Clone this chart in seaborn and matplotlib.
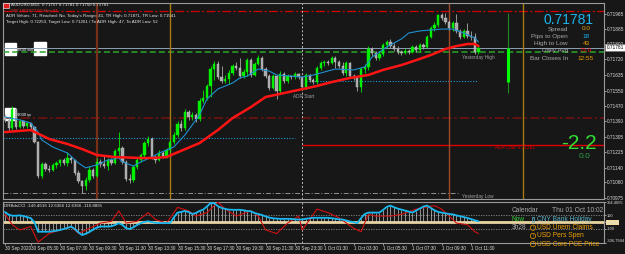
import numpy as np
import matplotlib
matplotlib.use("Agg")
import matplotlib.pyplot as plt
from matplotlib.patches import Rectangle
import seaborn as sns

# ---- AUDUSD M15 bars (30 Sep 03:45 -> 1 Oct 12:00) ----
first_open = 0.71411
closes = [0.71395, 0.71352, 0.71454, 0.71357, 0.71389, 0.71363, 0.71379, 0.71357, 0.71277, 0.71095,
          0.71159, 0.71132, 0.71127, 0.71154, 0.71164, 0.71180, 0.71164, 0.71191, 0.71180, 0.71111,
          0.71068, 0.71041, 0.71073, 0.71127, 0.71095, 0.71170, 0.71159, 0.71148, 0.71180, 0.71164,
          0.71229, 0.71245, 0.71170, 0.71079, 0.71073, 0.71143, 0.71180, 0.71207, 0.71271, 0.71293,
          0.71196, 0.71180, 0.71218, 0.71202, 0.71234, 0.71277, 0.71314, 0.71373, 0.71352, 0.71438,
          0.71411, 0.71422, 0.71400, 0.71497, 0.71513, 0.71577, 0.71668, 0.71695, 0.71625, 0.71604,
          0.71614, 0.71647, 0.71684, 0.71673, 0.71630, 0.71652, 0.71716, 0.71636, 0.71695, 0.71727,
          0.71668, 0.71630, 0.71566, 0.71630, 0.71550, 0.71641, 0.71604, 0.71630, 0.71625, 0.71641,
          0.71625, 0.71572, 0.71636, 0.71609, 0.71598, 0.71673, 0.71700, 0.71706, 0.71700, 0.71727,
          0.71706, 0.71684, 0.71647, 0.71700, 0.71630, 0.71620, 0.71572, 0.71668, 0.71679, 0.71775,
          0.71754, 0.71727, 0.71748, 0.71797, 0.71813, 0.71791, 0.71775, 0.71759, 0.71754, 0.71765,
          0.71759, 0.71786, 0.71770, 0.71797, 0.71786, 0.71840, 0.71888, 0.71904, 0.71958, 0.71941,
          0.71920, 0.71888, 0.71915, 0.71872, 0.71840, 0.71872, 0.71845, 0.71840, 0.71759, 0.71781]
highs = [0.71427, 0.71416, 0.71470, 0.71459, 0.71400, 0.71395, 0.71389, 0.71379, 0.71363, 0.71282,
         0.71170, 0.71170, 0.71154, 0.71164, 0.71175, 0.71186, 0.71191, 0.71223, 0.71202, 0.71180,
         0.71127, 0.71073, 0.71089, 0.71148, 0.71138, 0.71191, 0.71186, 0.71207, 0.71191, 0.71191,
         0.71239, 0.71330, 0.71255, 0.71180, 0.71106, 0.71154, 0.71191, 0.71218, 0.71282, 0.71309,
         0.71304, 0.71207, 0.71234, 0.71229, 0.71245, 0.71293, 0.71330, 0.71389, 0.71395, 0.71454,
         0.71448, 0.71438, 0.71432, 0.71513, 0.71556, 0.71588, 0.71684, 0.71711, 0.71711, 0.71684,
         0.71636, 0.71663, 0.71695, 0.71706, 0.71727, 0.71668, 0.71727, 0.71727, 0.71706, 0.71743,
         0.71738, 0.71679, 0.71641, 0.71641, 0.71636, 0.71657, 0.71652, 0.71641, 0.71636, 0.71652,
         0.71647, 0.71630, 0.71647, 0.71641, 0.71620, 0.71684, 0.71711, 0.71716, 0.71716, 0.71738,
         0.71738, 0.71716, 0.71706, 0.71711, 0.71706, 0.71641, 0.71630, 0.71679, 0.71695, 0.71791,
         0.71786, 0.71765, 0.71765, 0.71807, 0.71824, 0.71829, 0.71807, 0.71791, 0.71770, 0.71781,
         0.71775, 0.71797, 0.71797, 0.71807, 0.71807, 0.71850, 0.71899, 0.71920, 0.71963, 0.71968,
         0.71968, 0.71931, 0.71925, 0.71963, 0.71882, 0.71882, 0.71915, 0.71872, 0.71861, 0.71791]
lows = [0.71384, 0.71336, 0.71341, 0.71346, 0.71352, 0.71352, 0.71352, 0.71341, 0.71271, 0.71084,
        0.71084, 0.71122, 0.71116, 0.71122, 0.71138, 0.71148, 0.71154, 0.71148, 0.71164, 0.71100,
        0.71057, 0.71004, 0.71020, 0.71063, 0.71084, 0.71089, 0.71143, 0.71138, 0.71127, 0.71154,
        0.71159, 0.71202, 0.71159, 0.71068, 0.71057, 0.71063, 0.71132, 0.71170, 0.71196, 0.71255,
        0.71186, 0.71164, 0.71175, 0.71191, 0.71191, 0.71223, 0.71266, 0.71304, 0.71336, 0.71341,
        0.71395, 0.71395, 0.71384, 0.71389, 0.71486, 0.71502, 0.71518, 0.71609, 0.71614, 0.71593,
        0.71593, 0.71588, 0.71636, 0.71663, 0.71620, 0.71620, 0.71630, 0.71625, 0.71630, 0.71689,
        0.71657, 0.71620, 0.71556, 0.71561, 0.71507, 0.71539, 0.71593, 0.71593, 0.71614, 0.71614,
        0.71614, 0.71556, 0.71561, 0.71598, 0.71588, 0.71588, 0.71663, 0.71684, 0.71689, 0.71695,
        0.71673, 0.71673, 0.71636, 0.71630, 0.71620, 0.71609, 0.71550, 0.71545, 0.71647, 0.71663,
        0.71738, 0.71716, 0.71716, 0.71738, 0.71781, 0.71781, 0.71765, 0.71748, 0.71743, 0.71748,
        0.71748, 0.71754, 0.71759, 0.71759, 0.71775, 0.71781, 0.71834, 0.71872, 0.71893, 0.71931,
        0.71909, 0.71877, 0.71872, 0.71861, 0.71829, 0.71834, 0.71834, 0.71824, 0.71748, 0.71748]

# moving averages (bar index, price)
blue_ma_bars = [0, 4, 7, 9, 10, 13, 17, 20, 22, 25, 28, 31, 32, 35, 37, 40, 42, 46, 49, 53, 55, 58, 62,
                64, 66, 69, 72, 74, 78, 81, 84, 87, 90, 95, 98, 100, 104, 108, 110, 113, 116, 119, 122,
                125, 128, 129]
blue_ma = [0.71411, 0.71395, 0.71379, 0.71330, 0.71288, 0.71250, 0.71218, 0.71164, 0.71138, 0.71154,
           0.71180, 0.71191, 0.71170, 0.71148, 0.71170, 0.71196, 0.71218, 0.71250, 0.71314, 0.71422,
           0.71507, 0.71561, 0.71593, 0.71620, 0.71630, 0.71668, 0.71657, 0.71636, 0.71630, 0.71625,
           0.71636, 0.71652, 0.71668, 0.71663, 0.71679, 0.71732, 0.71786, 0.71829, 0.71861, 0.71872,
           0.71877, 0.71882, 0.71882, 0.71861, 0.71834, 0.71813]
red_ma_bars = [0, 7, 12, 17, 21, 25, 30, 37, 40, 44, 46, 53, 58, 62, 67, 71, 76, 80, 85, 89, 94, 99,
               103, 108, 113, 116, 118, 120, 123, 126, 128, 129]
red_ma = [0.71330, 0.71341, 0.71293, 0.71266, 0.71239, 0.71207, 0.71196, 0.71191, 0.71191, 0.71196,
          0.71213, 0.71271, 0.71341, 0.71405, 0.71464, 0.71518, 0.71539, 0.71556, 0.71577, 0.71598,
          0.71620, 0.71636, 0.71663, 0.71689, 0.71722, 0.71743, 0.71759, 0.71775, 0.71791, 0.71802,
          0.71802, 0.71791]

# CCI sub window
cci_main = [150, 110, 95, 95, 100, 90, 75, 60, 0, -140, -140, -140, -140, -135, -125, -115, -100, -85,
            -65, -100, -150, -190, -170, -145, -110, -80, -64, -64, -64, -60, -40, -15, -40, -90, -100,
            -75, -40, -15, 5, 13, 0, -10, -13, -13, -13, -13, 70, 141, 150, 165, 150, 120, 135, 165, 185,
            230, 280, 280, 235, 210, 195, 185, 182, 182, 182, 175, 165, 160, 135, 120, 105, 85, 68, 58,
            52, 49, 49, 49, 48, 42, 38, 40, 50, 58, 64, 64, 64, 64, 64, 58, 50, 42, 38, 25, 10, 0, -13,
            60, 120, 141, 141, 141, 141, 180, 225, 244, 220, 200, 185, 170, 155, 141, 170, 200, 230, 244,
            210, 175, 150, 140, 130, 120, 115, 100, 88, 75, 62, 45, 28, 13]
sig_bars = [0, 2, 4, 7, 9, 12, 15, 18, 20, 23, 26, 29, 31, 33, 36, 39, 41, 44, 47, 50, 52, 55, 58, 60,
            63, 67, 69, 71, 74, 77, 80, 81, 85, 88, 91, 95, 97, 99, 101, 105, 108, 112, 117, 119, 123,
            126, 128, 129]
sig_vals = [115, -38, -115, -64, -295, -167, -115, -64, -167, -90, -13, 13, 167, -13, 13, 141, 38, -13,
            218, 167, 90, 141, 295, 192, 90, 167, 90, -115, -167, -13, 90, -115, 192, 141, 64, -90,
            -141, 115, 90, 90, 115, 192, 244, 192, -13, -38, -141, -167]

price_ticks = [0.70975, 0.71060, 0.71140, 0.71225, 0.71305, 0.71390, 0.71470, 0.71550, 0.71635,
               0.71720, 0.71800, 0.71885, 0.71965]
time_bars = [0, 7, 15, 23, 31, 39, 47, 55, 63, 71, 79, 87, 95, 103, 111, 119, 127]
time_labels = ["30 Sep 2020", "30 Sep 05:30", "30 Sep 07:30", "30 Sep 09:30", "30 Sep 11:30",
               "30 Sep 13:30", "30 Sep 15:30", "30 Sep 17:30", "30 Sep 19:30", "30 Sep 21:30",
               "30 Sep 23:30", "1 Oct 01:30", "1 Oct 03:30", "1 Oct 05:30", "1 Oct 07:30",
               "1 Oct 09:30", "1 Oct 11:30"]

last_price = 0.71781
yest_high, yest_low = 0.71759, 0.71004
adr_low = 0.71261
level_top, level_mid = 0.71981, 0.71405
blue_lvl1, blue_lvl2 = 0.71298, 0.71604
day_open, day_high, day_low = 0.71601, 0.71968, 0.71538
session_a = [25, 121]   # 10:00 lines
session_b = [45, 141]   # 15:00 lines
day_start = 81

cal_times = ["Now", "3h28", "", ""]
cal_events = ["CNY Bank Holiday", "USD Unem Claims", "USD Pers Spen", "USD Core PCE Price"]
cal_colors = ["#5ab0c8", "#f0a000", "#f0a000", "#f0a000"]

bg = "#171717"
fg = "#dcdcdc"
sns.set_theme(style="dark", rc={"axes.facecolor": bg, "figure.facecolor": bg,
                                "axes.edgecolor": "#9a9a9a", "text.color": fg,
                                "xtick.color": fg, "ytick.color": fg})
plt.rcParams["font.family"] = ["Liberation Sans", "DejaVu Sans"]

W, H = 625, 254
fig = plt.figure(figsize=(6.25, 2.54), dpi=100)
ax = fig.add_axes([3 / W, 1 - 198.5 / H, 601 / W, 195.5 / H])
ax2 = fig.add_axes([3 / W, 1 - 243 / H, 601 / W, 41.5 / H])


def ftext(x, y, s, **kw):
    return fig.text(x / W, 1 - y / H, s, va="center", **kw)


closes_a = np.array(closes)
opens_a = np.r_[first_open, closes_a[:-1]]
bars = np.arange(len(closes_a))
up = closes_a >= opens_a
bull, bear = "#00f000", "#a9a9a9"

# trade boxes on the left
for x0, x1, p0, p1 in [(0, 3.0, 0.71743, 0.71807), (7.9, 11.2, 0.71743, 0.71813), (0, 2.7, 0.71395, 0.71459)]:
    ax.add_patch(Rectangle((x0, p0), x1 - x0, p1 - p0, color="white", zorder=1))

ax.vlines(bars[up], np.array(lows)[up], np.array(highs)[up], color=bull, lw=0.6, zorder=3)
ax.vlines(bars[~up], np.array(lows)[~up], np.array(highs)[~up], color=bear, lw=0.6, zorder=3)
body = np.maximum(np.abs(closes_a - opens_a), 0.000025)
ax.bar(bars, body, bottom=np.minimum(opens_a, closes_a), width=0.62,
       color=np.where(up, bull, bear), edgecolor=np.where(up, bull, "#c8c8c8"), lw=0.3, zorder=4)

sns.lineplot(x=blue_ma_bars, y=blue_ma, ax=ax, color="#1e8fd0", lw=0.8, estimator=None, sort=False, zorder=5)
sns.lineplot(x=red_ma_bars, y=red_ma, ax=ax, color="#ff1414", lw=1.8, estimator=None, sort=False, zorder=5)

# levels
ax.axhline(level_top, color="#d00000", lw=0.9, ls=(0, (7, 2, 1.5, 2)), zorder=2)
ax.axhline(yest_high, color="#28a428", lw=1.1, ls=(0, (4, 2)), zorder=2)
ax.axhline(last_price, color="#8ca0b4", lw=0.7, zorder=2)
ax.axhline(level_mid, color="#7a1010", lw=1.1, ls=(0, (6, 2, 1.5, 2)), zorder=2)
ax.hlines(blue_lvl1, -0.6, 79, color="#1e9ad6", lw=0.8, ls=(0, (1, 1.5)), zorder=2)
ax.hlines(blue_lvl2, 82, 129, color="#1e9ad6", lw=0.8, ls=(0, (1, 1.5)), zorder=2)
ax.hlines(adr_low, day_start, 170, color="#e00000", lw=1.0, zorder=2)
ax.hlines(yest_low, -0.6, 124, color="#909090", lw=0.7, ls=(0, (5, 2, 1, 2)), zorder=2)
for b in session_a:
    ax.axvline(b, color="#7a3018" if b < 60 else "#9c4a2a", lw=1.6 if b < 60 else 1.0, zorder=2)
for b in session_b:
    ax.axvline(b, color="#a87a10", lw=1.0, zorder=2)
for a in (ax, ax2):
    a.axvline(day_start, color="#bdbdbd", lw=0.7, ls=(0, (2, 2)), zorder=2)

# daily candle on the right
ax.vlines(137, day_low, day_high, color="#1f8a1f", lw=0.8, zorder=3)
ax.vlines(137, day_open, last_price, color="#00ff00", lw=2.2, zorder=3)

lab = dict(fontsize=3.4, color="#a0a0a0", va="center")
ax.text(81.5, 0.71518, "ADR Start", ha="center", **lab)
ax.text(124.5, 0.71732, "Yesterday High", ha="left", **lab)
ax.text(124.5, 0.70982, "Yesterday Low", ha="left", **lab)
ax.text(133.5, 0.71245, "ADR Low: 0.71261", ha="left", fontsize=3.4, color="#e00000", va="center")
ax.text(3.3, 0.71770, "8830 sell", fontsize=3.0, color="white", va="center", zorder=6)
ax.text(3.3, 0.71422, "9030 tp", fontsize=3.0, color="white", va="center", zorder=6)

ax.set_xlim(-0.55, 163.2)
ax.set_ylim(0.709739, 0.720218)
ax.set_xticks([])
ax.set_xlabel("")
ax.set_ylabel("")
ax.yaxis.tick_right()
ax.set_yticks(price_ticks)
ax.set_yticklabels([f"{p:.5f}" for p in price_ticks])
ax.tick_params(axis="y", right=True, left=False, length=1.5, width=0.5, pad=0.8,
               labelsize=3.4, colors=fg)
ax.text(1.004, last_price, f"{last_price:.5f}", transform=ax.get_yaxis_transform(), fontsize=3.4,
        color="black", va="center", ha="left", zorder=10, clip_on=False,
        bbox=dict(boxstyle="square,pad=0.2", fc="white", ec="#707070", lw=0.4))

# CCI window
ax2.vlines(bars, 0, cci_main, color="#d8d8d8", lw=0.45, zorder=2)
ax2.axhline(0, color="#e8d4a0", lw=2.0, zorder=1)
for lv in (100, -100):
    ax2.axhline(lv, color="#8a8a8a", lw=0.6, ls=(0, (1.5, 1.5)), zorder=1)
sns.lineplot(x=bars, y=cci_main, ax=ax2, color="#19b8f0", lw=1.3, estimator=None, sort=False, zorder=4)
sns.lineplot(x=sig_bars, y=sig_vals, ax=ax2, color="#d01010", lw=0.8, estimator=None, sort=False, zorder=3)
ax2.set_xlim(-0.55, 163.2)
ax2.set_ylim(-306.7994, 304.4655)
ax2.set_xlabel("")
ax2.set_ylabel("")
ax2.yaxis.tick_right()
ax2.set_yticks([304.4655, 100, 0, -100, -306.7994])
ax2.set_yticklabels(["304.4655", "100", "0.0000", "-100", "-306.7994"])
zl = ax2.get_yticklabels()[2]
zl.set_bbox(dict(boxstyle="square,pad=0.15", fc="#f0dca0", ec="none"))
zl.set_color("black")
ax2.get_yticklabels()[0].set_va("top")
ax2.get_yticklabels()[4].set_va("bottom")
ax2.tick_params(axis="y", right=True, left=False, length=1.2, width=0.5, pad=0.6, labelsize=2.9, colors=fg)
ax2.set_xticks(time_bars)
ax2.set_xticklabels(time_labels, ha="left")
ax2.tick_params(axis="x", bottom=True, length=1.5, width=0.5, pad=1.0, labelsize=3.3, colors=fg)
for a in (ax, ax2):
    for s in a.spines.values():
        s.set_color("#9a9a9a")
        s.set_linewidth(0.8)

# header texts
fig.patches.append(Rectangle((3 / W, 1 - 8 / H), 6 / W, 5 / H, transform=fig.transFigure,
                             fc="#e02020", ec="white", lw=0.4))
hd = dict(fontsize=3.2, color="#e8e8e8", ha="left")
ftext(11, 5, "AUDUSD,M15  0.71757 0.71781 0.71750 0.71781", **hd)
ftext(11, 10.5, "SW 1801827 01 Mon 81", fontsize=3.2, color="#e03030", ha="left")
ftext(6, 16, "ADR Values: 71, Reached: No, Today's Range: 41, TR High: 0.71871, TR Low: 0.71541", **hd)
ftext(6, 22, "Target High: 0.72253, Target Low: 0.71261 / To ADR High: 47, To ADR Low: 52", **hd)
ftext(4, 206, "DRBdsCCI -149.4616 12.6366 12.6366 -110.8895", **hd)

# info panel
ftext(593, 19.5, "0.71781", fontsize=10, color="#1eb4f0", ha="right")
rows = ["Spread", "Pips to Open", "High to Low", "Daily Avg", "Bar Closes In"]
vals = ["0.0", "18", "43", "73.0", "12:55"]
vcols = ["#f0a000", "#1eb4f0", "#f0a000", "#ff1010", "#f0a000"]
for k, (r, v, c) in enumerate(zip(rows, vals, vcols)):
    yy = 29 + k * 7.3
    ftext(568, yy, r, fontsize=4.6, color="#a8a8a8", ha="right")
    ftext(586, yy, v, fontsize=4.6, color=c, ha="center")
ftext(579, 143.5, "-2.2", fontsize=15, color="#33dd33", ha="center")
ftext(585, 157, "0.0", fontsize=6, color="#2e9e4e", ha="center")

# calendar
ftext(512, 211, "Calendar", fontsize=4.8, color="#a8a8a8", ha="left")
ftext(603, 211, "Thu 01 Oct 10:02", fontsize=4.8, color="#a8a8a8", ha="right")
for k, (t, ev, c) in enumerate(zip(cal_times, cal_events, cal_colors)):
    yy = 219.5 + k * 8.2
    tc = "#33cc33" if t == "Now" else "#a8a8a8"
    ax2.text(512 / W, 1 - yy / H, t, transform=fig.transFigure, fontsize=4.8, color=tc,
             va="center", ha="left", zorder=6)
    ax2.text(533 / W, 1 - yy / H, "!", transform=fig.transFigure, fontsize=3.2, color=c,
             va="center", ha="center", zorder=6,
             bbox=dict(boxstyle=("square" if k == 0 else "circle") + ",pad=0.15", fc="none", ec=c, lw=0.5))
    ax2.text(537 / W, 1 - yy / H, ev, transform=fig.transFigure, fontsize=4.8, color=c,
             va="center", ha="left", zorder=6)

fig.savefig("out.png", dpi=100, facecolor=bg)
